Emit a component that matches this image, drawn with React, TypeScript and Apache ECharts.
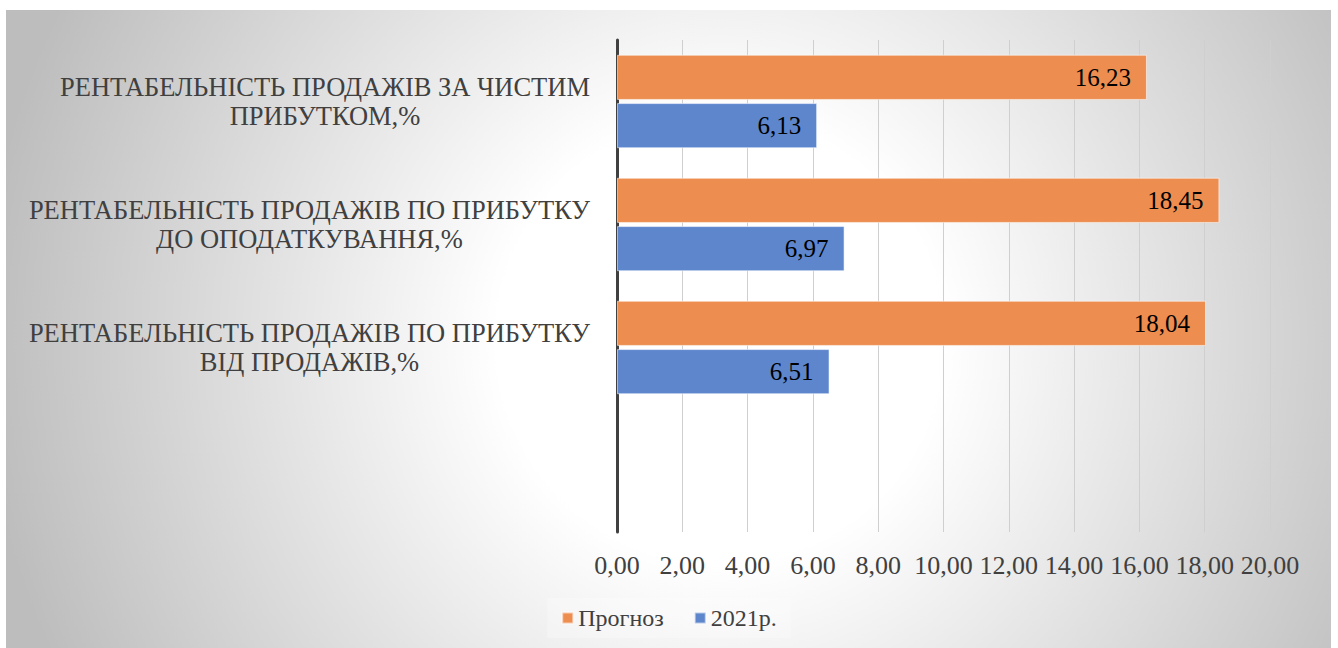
import React, { useEffect, useRef } from "react";
import * as echarts from "echarts";

const categories = [
  "РЕНТАБЕЛЬНІСТЬ ПРОДАЖІВ ЗА ЧИСТИМ\nПРИБУТКОМ,%",
  "РЕНТАБЕЛЬНІСТЬ ПРОДАЖІВ ПО ПРИБУТКУ\nДО ОПОДАТКУВАННЯ,%",
  "РЕНТАБЕЛЬНІСТЬ ПРОДАЖІВ ПО ПРИБУТКУ\nВІД ПРОДАЖІВ,%",
  "",
];
const forecastValues = [16.23, 18.45, 18.04, null];
const values2021 = [6.13, 6.97, 6.51, null];
const seriesNames = ["Прогноз", "2021р."];

const FONT = "'Liberation Serif', 'Times New Roman', serif";
const fmt = (v: number) => v.toFixed(2).replace(".", ",");

export default function App() {
  const ref = useRef<HTMLDivElement>(null);
  useEffect(() => {
    if (!ref.current) return;
    const chart = echarts.init(ref.current, null, { renderer: "svg" });
    const barBorder = { borderColor: "rgba(255,255,255,0.55)", borderWidth: 1 };
    chart.setOption({
      animation: false,
      textStyle: { fontFamily: FONT },
      graphic: [
        {
          type: "rect",
          z: -10,
          silent: true,
          shape: { x: 6, y: 10, width: 1325, height: 638 },
          style: {
            fill: new echarts.graphic.RadialGradient(
              720,
              340,
              740,
              [
                { offset: 0, color: "#ffffff" },
                { offset: 0.3, color: "#ffffff" },
                { offset: 1, color: "#bdbdbd" },
              ],
              true
            ),
          },
        },
      ],
      legend: {
        data: seriesNames,
        left: "center",
        top: 598,
        itemWidth: 11,
        itemHeight: 11,
        itemGap: 30,
        icon: "rect",
        padding: [8, 14],
        backgroundColor: "rgba(255,255,255,0.25)",
        textStyle: { fontFamily: FONT, fontSize: 24, color: "#404040" },
      },
      grid: { left: 617, right: 68, top: 40, bottom: 116, containLabel: false },
      xAxis: {
        type: "value",
        min: 0,
        max: 20,
        interval: 2,
        axisLine: { show: false },
        axisTick: { show: false },
        splitLine: { show: true, lineStyle: { color: "#cfcfcf", width: 1 } },
        axisLabel: {
          margin: 20,
          fontFamily: FONT,
          fontSize: 26,
          color: "#404040",
          formatter: (v: number) => fmt(v),
        },
      },
      yAxis: {
        type: "category",
        inverse: true,
        data: categories,
        axisLine: { show: true, lineStyle: { color: "#404040", width: 3 } },
        axisTick: { show: false },
        axisLabel: {
          margin: 27,
          fontFamily: FONT,
          fontSize: 26.5,
          lineHeight: 29,
          color: "#404040",
          formatter: (v: string) =>
            v
              .split("\n")
              .map((l) => `{a|${l}}`)
              .join("\n"),
          rich: {
            a: { align: "center", fontFamily: FONT, fontSize: 26.5, lineHeight: 29, color: "#404040" },
          },
        },
      },
      series: [
        {
          name: seriesNames[0],
          type: "bar",
          data: forecastValues,
          barCategoryGap: "24%",
          barGap: "7%",
          itemStyle: { color: "#ED8D4F", ...barBorder },
          label: {
            show: true,
            position: "insideRight",
            distance: 16,
            fontFamily: FONT,
            fontSize: 25,
            color: "#000",
            formatter: (p: any) => fmt(p.value),
          },
        },
        {
          name: seriesNames[1],
          type: "bar",
          data: values2021,
          barCategoryGap: "24%",
          barGap: "7%",
          itemStyle: { color: "#5E86CD", ...barBorder },
          label: {
            show: true,
            position: "insideRight",
            distance: 16,
            fontFamily: FONT,
            fontSize: 25,
            color: "#000",
            formatter: (p: any) => fmt(p.value),
          },
        },
      ],
    });
    return () => chart.dispose();
  }, []);
  return (
    <div
      ref={ref}
      style={{ position: "fixed", left: 0, top: 0, width: 1338, height: 648, background: "#fff" }}
    />
  );
}
